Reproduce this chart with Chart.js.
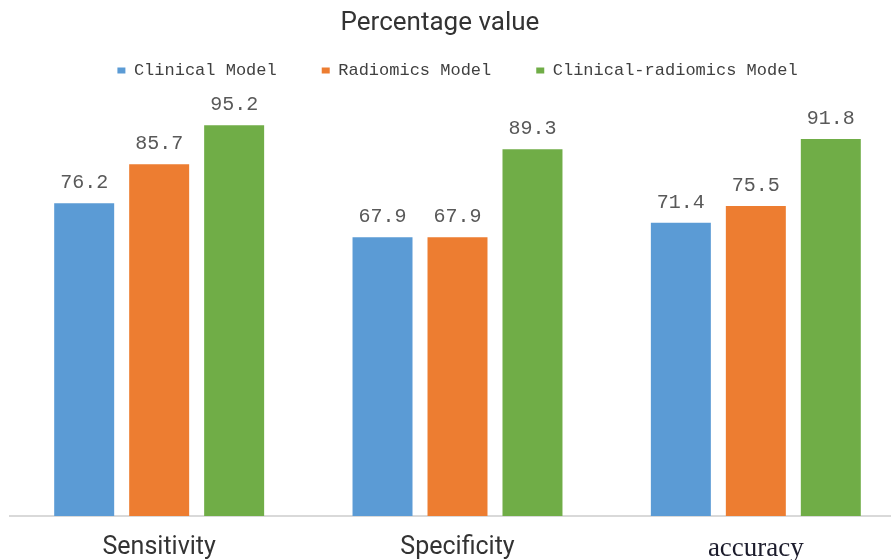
<!DOCTYPE html>
<html>
<head>
<meta charset="utf-8">
<title>Percentage value</title>
<script src="https://cdn.jsdelivr.net/npm/chart.js@4.4.1/dist/chart.umd.min.js"></script>
<style>
  html, body { margin: 0; padding: 0; background: #fff; overflow: hidden; }
  #wrap { width: 891px; height: 560px; overflow: hidden; }
  #wrap canvas { display: block; }
</style>
</head>
<body>
<div id="wrap"><canvas id="chart" width="915" height="560"></canvas></div>
<script>
// Model performance, percent
const categories = ['Sensitivity', 'Specificity', 'accuracy'];
const seriesNames = ['Clinical Model', 'Radiomics Model', 'Clinical-radiomics Model'];
const clinicalValues = [76.2, 67.9, 71.4];
const radiomicsValues = [85.7, 67.9, 75.5];
const combinedValues = [95.2, 89.3, 91.8];
const seriesColors = ['#5b9bd5', '#ed7d31', '#70ad47'];

// Heading drawn a little left of the plot centre
const headingPlugin = {
  id: 'heading',
  afterDraw(chart) {
    const ctx = chart.ctx;
    ctx.save();
    ctx.font = '26px Roboto';
    ctx.fillStyle = '#333333';
    ctx.textAlign = 'center';
    ctx.textBaseline = 'middle';
    ctx.fillText('Percentage value', 440, 23);
    ctx.restore();
  }
};

// Numbers above each bar
const valueLabels = {
  id: 'valueLabels',
  afterDatasetsDraw(chart) {
    const ctx = chart.ctx;
    ctx.save();
    ctx.font = '20px "Liberation Mono"';
    ctx.fillStyle = '#595959';
    ctx.textAlign = 'center';
    ctx.textBaseline = 'alphabetic';
    chart.data.datasets.forEach((ds, i) => {
      const meta = chart.getDatasetMeta(i);
      meta.data.forEach((bar, j) => {
        ctx.fillText(ds.data[j].toFixed(1), bar.x, bar.y - 15);
      });
    });
    ctx.restore();
  }
};

const allSeries = [clinicalValues, radiomicsValues, combinedValues];

new Chart(document.getElementById('chart'), {
  type: 'bar',
  data: {
    labels: categories,
    datasets: allSeries.map((vals, i) => ({
      label: seriesNames[i],
      data: vals,
      backgroundColor: seriesColors[i],
      borderWidth: 0,
      barPercentage: 0.8,
      categoryPercentage: 0.754
    }))
  },
  options: {
    responsive: false,
    animation: false,
    layout: { padding: { top: 17, left: 10, right: 10, bottom: -13 } },
    plugins: {
      legend: {
        position: 'top',
        labels: {
          font: { family: 'Liberation Mono', size: 17 },
          color: '#404040',
          boxWidth: 8,
          boxHeight: 6,
          padding: 45
        }
      },
      tooltip: { enabled: false }
    },
    scales: {
      x: {
        grid: { display: false },
        border: { display: true, color: '#d9d9d9', width: 2 },
        ticks: {
          padding: 11,
          color: (c) => c.index === 2 ? '#1c1c2c' : '#333333',
          font: (c) => c.index === 2
            ? { family: 'Liberation Serif', size: 27, lineHeight: 1 }
            : { family: 'Roboto', size: 25, lineHeight: 1 }
        }
      },
      y: {
        display: false,
        min: 0,
        max: 104
      }
    }
  },
  plugins: [headingPlugin, valueLabels]
});
</script>
</body>
</html>
